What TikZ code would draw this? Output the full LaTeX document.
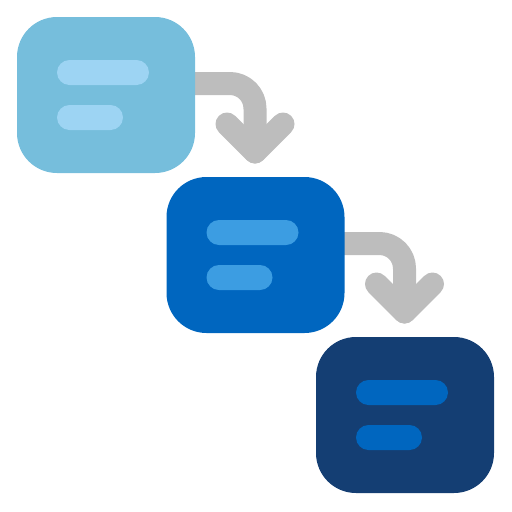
\documentclass[tikz,border=0pt]{standalone}
\usetikzlibrary{backgrounds}
\definecolor{boxA}{HTML}{76BEDC}
\definecolor{barA}{HTML}{9DD4F3}
\definecolor{boxB}{HTML}{0066BF}
\definecolor{barB}{HTML}{3C9DE2}
\definecolor{boxC}{HTML}{143E73}
\definecolor{barC}{HTML}{0066BF}
\definecolor{arrowgray}{HTML}{BDBDBD}
\tikzset{
  card/.style={rounded corners=40pt, minimum width=178pt, minimum height=156pt, inner sep=0pt, draw=none},
  longbar/.style={rounded corners=12.5pt, minimum width=92pt, minimum height=25pt, inner sep=0pt, draw=none},
  shortbar/.style={rounded corners=12.5pt, minimum width=66pt, minimum height=25pt, inner sep=0pt, draw=none},
  flow/.style={draw=arrowgray, line width=23pt, line cap=round, line join=round}
}
\begin{document}
\begin{tikzpicture}[x=1pt,y=-1pt]
\useasboundingbox (0,0) rectangle (512,512);
% boxes
\node[card, fill=boxA] (b1) at (106,95) {};
\node[card, fill=boxB] (b2) at (255.5,255) {};
\node[card, fill=boxC] (b3) at (405,415) {};
% bars
\node[longbar, fill=barA] (b1l) at (103,72.5) {};
\node[shortbar, fill=barA] (b1s) at (90,117.5) {};
\node[longbar, fill=barB] (b2l) at (252.5,232.5) {};
\node[shortbar, fill=barB] (b2s) at (239.5,277.5) {};
\node[longbar, fill=barC] (b3l) at (402,392.5) {};
\node[shortbar, fill=barC] (b3s) at (389,437.5) {};
% connector points
\coordinate (a1s) at (190,83.5);
\coordinate (a1t) at (255,152);
\coordinate (a1l) at (227,124);
\coordinate (a1r) at (283,124);
\coordinate (a2s) at (339.5,243.5);
\coordinate (a2t) at (404.5,312);
\coordinate (a2l) at (376.5,284);
\coordinate (a2r) at (432.5,284);
\begin{scope}[on background layer]
\draw[flow, rounded corners=25pt] (a1s) -| (a1t);
\draw[flow] (a1l) -- (a1t) -- (a1r);
\draw[flow, rounded corners=25pt] (a2s) -| (a2t);
\draw[flow] (a2l) -- (a2t) -- (a2r);
\end{scope}
\end{tikzpicture}
\end{document}
